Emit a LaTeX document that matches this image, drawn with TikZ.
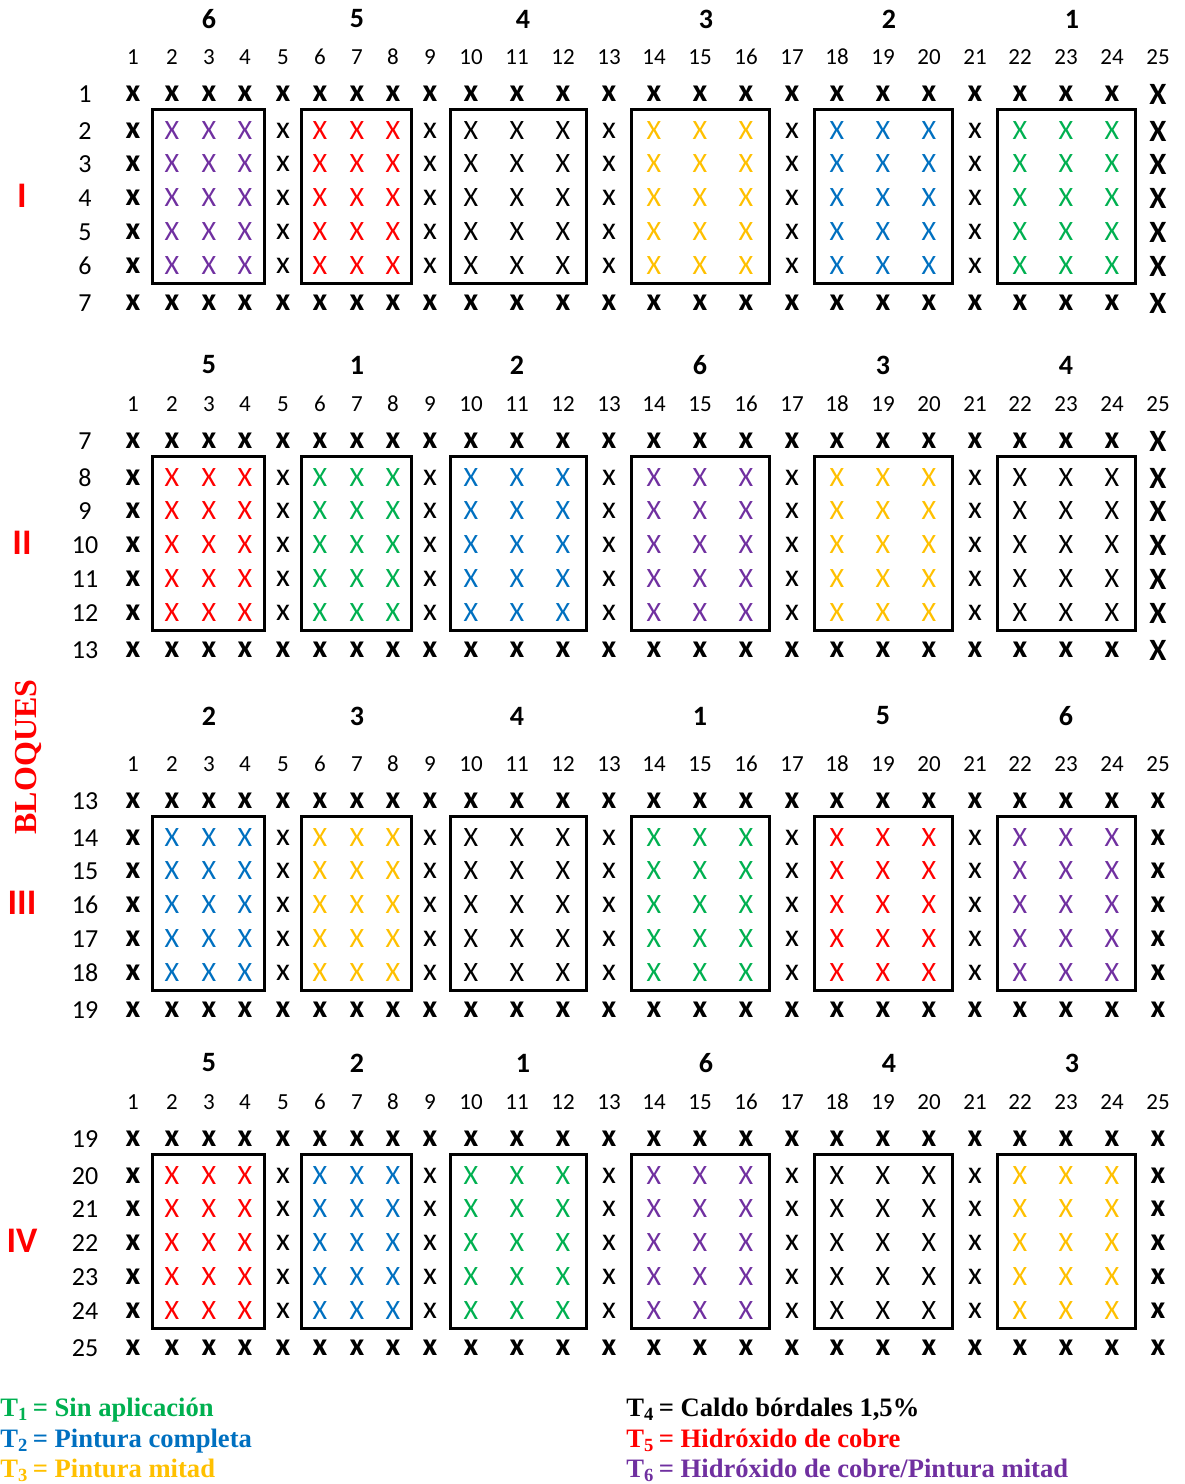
\documentclass[tikz,border=0pt]{standalone}
\usepackage{fontspec}
\setmainfont{Carlito}
\newfontfamily\romana{Liberation Serif}

% colores de los tratamientos
\definecolor{T1}{HTML}{00B050}
\definecolor{T2}{HTML}{0070C0}
\definecolor{T3}{HTML}{FFC000}
\definecolor{T4}{HTML}{000000}
\definecolor{T5}{HTML}{FF0000}
\definecolor{T6}{HTML}{7030A0}

% posiciones de columnas y desplazamiento de filas
\newcommand{\colx}{{133,172,209,245,283,320,357,393,430,471,517,563,609,654,700,746,792,837,883,929,975,1020,1066,1112,1158}}
\newcommand{\filay}{{0,37,70,104,138,172,209}}

\begin{document}
\begin{tikzpicture}[x=0.5pt, y=-0.5pt,
    cruzb/.style={inner sep=0pt, font=\fontsize{16}{16}\selectfont\bfseries},
    cruzg/.style={inner sep=0pt, font=\fontsize{15.5}{16}\selectfont\bfseries},
    cruz/.style={inner sep=0pt, font=\fontsize{16}{16}\selectfont},
    cruzp/.style={inner sep=0pt, font=\fontsize{14}{14}\selectfont},
    numcol/.style={inner sep=0pt, font=\fontsize{11.5}{12}\selectfont},
    numfila/.style={inner sep=0pt, font=\fontsize{13}{13}\selectfont},
    trat/.style={inner sep=0pt, font=\fontsize{14}{14}\selectfont\bfseries},
    bloque/.style={inner sep=0pt, text=T5, font=\fontsize{18}{18}\selectfont\bfseries},
    parcela/.style={draw, line width=1.5pt},
    leyenda/.style={inner sep=0pt, anchor=base west, font=\romana\fontsize{13.3}{15}\selectfont\bfseries}]

    \useasboundingbox (0,0) rectangle (1184,1484);

    % título vertical
    \node[rotate=90, inner sep=0pt, text=T5, font=\romana\fontsize{16}{16}\selectfont\bfseries] (titulo) at (28,757) {BLOQUES};

    % -------------------------------------------------------------
    % bloques I a IV
    % -------------------------------------------------------------
    \foreach \b/\rom/\hy/\ry/\rl/\trats/\grande/\hs in {
        1/I/19/94/1/{6,5,4,3,2,1}/1/6,
        2/II/365/441/7/{5,1,2,6,3,4}/1/0,
        3/III/716/801/13/{2,3,4,1,5,6}/0/0,
        4/IV/1063/1139/19/{5,2,1,6,4,3}/0/6} {

        % número romano del bloque
        \node[bloque] (rom\b) at (22, \ry+102) {\rom};

        % números de columna
        \foreach \c in {1,...,25} {
            \pgfmathsetmacro{\cx}{\colx[\c-1]}
            \node[numcol] (col\b-\c) at (\cx, \ry-37) {\c};
        }

        % números de fila y plantas de borde
        \foreach \r in {0,...,6} {
            \pgfmathsetmacro{\fy}{\ry+\filay[\r]}
            \pgfmathtruncatemacro{\fn}{\rl+\r}
            \node[numfila] (fila\b-\r) at (85, \fy) {\fn};
            \foreach \c in {1,...,25} {
                \pgfmathsetmacro{\cx}{\colx[\c-1]}
                \pgfmathtruncatemacro{\borde}{(\r==0 || \r==6 || \c==1 || \c==25) ? 1 : 0}
                \pgfmathtruncatemacro{\guarda}{mod(\c-1,4)==0 ? 1 : 0}
                \def\estilo{}
                \ifnum\borde=1\relax \def\estilo{cruzb}\def\letra{x}\fi
                \ifnum\borde=0\relax \ifnum\guarda=1\relax \def\estilo{cruz}\def\letra{x}\fi\fi
                \ifnum\c=25\relax \ifnum\grande=1\relax \def\estilo{cruzg}\def\letra{X}\fi\fi
                \ifx\estilo\empty\else
                    \node[\estilo] (x\b-\r-\c) at (\cx, \fy) {\letra};
                \fi
            }
        }

        % parcelas con su tratamiento
        \foreach \t [count=\p] in \trats {
            \pgfmathtruncatemacro{\ca}{4*\p-2}
            \pgfmathsetmacro{\xm}{\colx[\ca] + (\p>2 ? \hs : 0)}
            \pgfmathsetmacro{\xa}{\colx[\ca-2]}
            \pgfmathsetmacro{\xb}{\colx[\ca-1]}
            \pgfmathsetmacro{\xc}{\colx[\ca+1]}
            \pgfmathsetmacro{\xd}{\colx[\ca+2]}
            \node[trat] (trat\b-\p) at (\xm, \hy) {\t};
            \draw[parcela] ({(\xa+\xb)/2}, \ry+15) rectangle ({(\xc+\xd)/2}, \ry+189);
            \foreach \r in {1,...,5} {
                \pgfmathsetmacro{\fy}{\ry+\filay[\r]}
                \foreach \k in {0,1,2} {
                    \pgfmathsetmacro{\cx}{\colx[\ca-1+\k]}
                    \node[cruzp, text=T\t] (p\b-\r-\p-\k) at (\cx, \fy) {X};
                }
            }
        }
    }

    % -------------------------------------------------------------
    % leyenda
    % -------------------------------------------------------------
    \node[leyenda, text=T1] (ley1) at (0,1416) {T\textsubscript{1}\,= Sin aplicación};
    \node[leyenda, text=T2] (ley2) at (0,1447) {T\textsubscript{2}\,= Pintura completa};
    \node[leyenda, text=T3] (ley3) at (0,1477) {T\textsubscript{3}\,= Pintura mitad};
    \node[leyenda, text=T4] (ley4) at (626,1416) {T\textsubscript{4}\,= Caldo bórdales 1,5\%};
    \node[leyenda, text=T5] (ley5) at (626,1447) {T\textsubscript{5}\,= Hidróxido de cobre};
    \node[leyenda, text=T6] (ley6) at (626,1477) {T\textsubscript{6}\,= Hidróxido de cobre/Pintura mitad};

\end{tikzpicture}
\end{document}
